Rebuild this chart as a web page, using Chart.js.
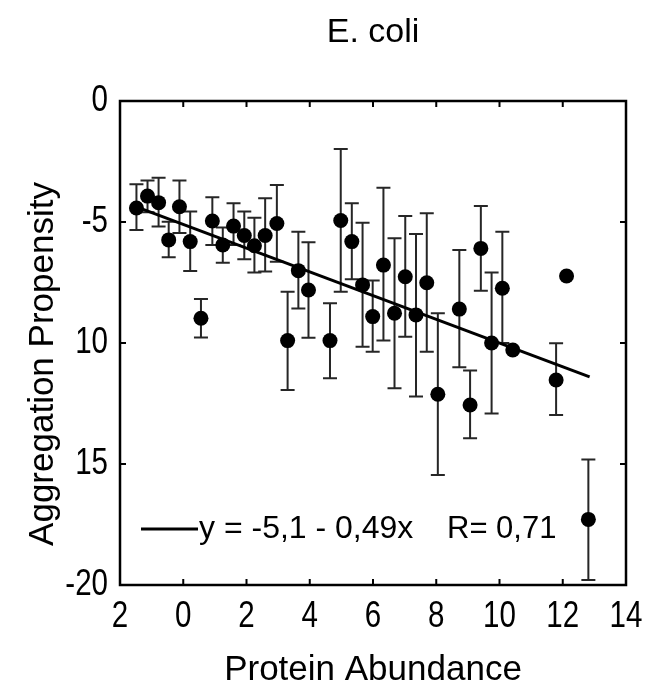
<!DOCTYPE html>
<html>
<head>
<meta charset="utf-8">
<script src="https://cdn.jsdelivr.net/npm/chart.js@4.4.0/dist/chart.umd.min.js"></script>
<style>
  html, body { margin: 0; padding: 0; background: #fff; }
  #wrap { width: 665px; height: 688px; }
</style>
</head>
<body>
<div id="wrap"><canvas id="myChart" width="665" height="688"></canvas></div>
<script>
// protein abundance (x) and aggregation propensity (y) per protein
const abundance = [-1.48, -1.13, -0.78, -0.46, -0.12, 0.22, 0.56, 0.92, 1.25, 1.59, 1.93, 2.25, 2.59, 2.96,
  3.30, 3.64, 3.96, 4.64, 4.98, 5.33, 5.67, 5.99, 6.33, 6.68, 7.02, 7.36, 7.70, 8.05, 8.73, 9.07,
  9.41, 9.75, 10.09, 10.42, 11.79, 12.12, 12.81];
const propensity = [-4.42, -3.93, -4.20, -5.74, -4.37, -5.81, -8.98, -4.96, -5.95, -5.17, -5.56, -5.98, -5.56, -5.06,
  -9.90, -7.01, -7.81, -9.90, -4.94, -5.81, -7.60, -8.91, -6.78, -8.77, -7.26, -8.84, -7.51, -12.12, -8.60, -12.56,
  -6.09, -10.00, -7.74, -10.29, -11.53, -7.23, -17.29];
// error bar ends (null = no bar)
const errHigh = [-3.44, -3.29, -3.17, -4.99, -3.29, -4.57, -8.18, -3.98, -5.23, -4.23, -4.57, -4.82, -4.02, -3.47,
  -7.88, -5.40, -5.84, -8.36, -1.98, -4.23, -5.03, -7.42, -3.58, -5.67, -4.75, -5.50, -4.64, -8.77, -6.16, -11.14,
  -4.34, -7.09, -5.40, null, -10.01, null, -14.81];
const errLow = [-5.33, -4.60, -5.19, -6.46, -5.45, -7.02, -9.77, -5.95, -6.68, -5.95, -6.54, -7.09, -7.05, -6.64,
  -11.94, -8.57, -9.78, -11.46, -7.88, -7.37, -10.15, -10.36, -9.90, -11.87, -9.74, -12.21, -10.36, -15.45, -11.00, -13.94,
  -7.84, -12.91, -10.00, null, -12.98, null, -19.79];

// linear fit y = a + b*x
const fitA = -5.1;
const fitB = -0.49;
const fitR = 0.71;
const fitRange = [-1.5, 12.85];

const xTickValues = [-2, 0, 2, 4, 6, 8, 10, 12, 14];
const xTickText = ['2', '0', '2', '4', '6', '8', '10', '12', '14'];
const yTickValues = [0, -5, -10, -15, -20];
const yTickText = ['0', '-5', '10', '15', '-20'];

const FONT = "'Liberation Sans', Arial, Helvetica, sans-serif";
const ctx = document.getElementById('myChart');

const fitPoints = fitRange.map(v => ({x: v, y: fitA + fitB * v}));
const fmt = v => String(v).replace('.', ',');
const fitLabel = 'y = ' + fmt(fitA) + ' - ' + fmt(Math.abs(fitB)) + 'x';

// vertical error bars with caps, drawn under the dots
const errorBars = {
  id: 'errorBars',
  beforeDatasetsDraw(chart) {
    const {ctx, scales: {x, y}} = chart;
    ctx.save();
    ctx.strokeStyle = '#262626';
    ctx.lineWidth = 2;
    abundance.forEach((a, i) => {
      if (errHigh[i] === null) return;
      const px = x.getPixelForValue(a);
      const top = y.getPixelForValue(errHigh[i]);
      const bot = y.getPixelForValue(errLow[i]);
      ctx.beginPath();
      ctx.moveTo(px, top); ctx.lineTo(px, bot);
      ctx.moveTo(px - 7, top); ctx.lineTo(px + 7, top);
      ctx.moveTo(px - 7, bot); ctx.lineTo(px + 7, bot);
      ctx.stroke();
    });
    ctx.restore();
  }
};

// narrow tick label, squeezed horizontally around its anchor
function narrowText(ctx, text, x, y, align) {
  ctx.save();
  ctx.translate(x, y);
  ctx.scale(0.82, 1);
  ctx.textAlign = align;
  ctx.fillText(text, 0, 0);
  ctx.restore();
}

// box around the plot, inward ticks on all sides, tick labels, legend and y title
const boxAndLegend = {
  id: 'boxAndLegend',
  afterDraw(chart) {
    const {ctx, chartArea: area, scales: {x, y}} = chart;
    ctx.save();
    ctx.strokeStyle = '#000';
    ctx.lineWidth = 2.5;
    ctx.strokeRect(area.left, area.top, area.right - area.left, area.bottom - area.top);
    ctx.lineWidth = 2;
    ctx.beginPath();
    xTickValues.forEach(v => {
      const px = x.getPixelForValue(v);
      ctx.moveTo(px, area.bottom); ctx.lineTo(px, area.bottom - 6);
      ctx.moveTo(px, area.top); ctx.lineTo(px, area.top + 6);
    });
    yTickValues.forEach(v => {
      const py = y.getPixelForValue(v);
      ctx.moveTo(area.left, py); ctx.lineTo(area.left + 6, py);
      ctx.moveTo(area.right, py); ctx.lineTo(area.right - 6, py);
    });
    ctx.stroke();

    // tick labels
    ctx.fillStyle = '#000';
    ctx.font = '36px ' + FONT;
    ctx.textBaseline = 'middle';
    xTickValues.forEach((v, i) => {
      narrowText(ctx, xTickText[i], x.getPixelForValue(v), area.bottom + 32, 'center');
    });
    yTickValues.forEach((v, i) => {
      narrowText(ctx, yTickText[i], area.left - 12, y.getPixelForValue(v), 'right');
    });

    // legend
    const ly = area.bottom - 56;
    ctx.lineWidth = 3;
    ctx.beginPath();
    ctx.moveTo(area.left + 21, ly);
    ctx.lineTo(area.left + 78, ly);
    ctx.stroke();
    ctx.font = '32px ' + FONT;
    ctx.textAlign = 'left';
    ctx.fillText(fitLabel, area.left + 79, ly);
    ctx.font = '31px ' + FONT;
    ctx.fillText('R= ' + fmt(fitR), area.left + 327, ly);

    // y axis title
    ctx.font = '35px ' + FONT;
    ctx.textAlign = 'center';
    ctx.translate(43, (area.top + area.bottom) / 2 + 21);
    ctx.rotate(-Math.PI / 2);
    ctx.fillText('Aggregation Propensity', 0, 0);
    ctx.restore();
  }
};

new Chart(ctx, {
  type: 'scatter',
  data: {
    datasets: [{
      label: 'proteins',
      data: abundance.map((a, i) => ({x: a, y: propensity[i]})),
      backgroundColor: '#000',
      borderWidth: 0,
      pointRadius: 7.5,
      pointHoverRadius: 7.5,
      order: 1
    }, {
      type: 'line',
      label: fitLabel,
      data: fitPoints,
      borderColor: '#000',
      borderWidth: 3,
      pointRadius: 0,
      fill: false,
      order: 2
    }]
  },
  options: {
    responsive: false,
    animation: false,
    layout: { padding: { left: 0, right: 39, top: 0, bottom: 0 } },
    plugins: {
      legend: { display: false },
      tooltip: { enabled: false },
      title: {
        display: true,
        text: 'E. coli',
        fullSize: false,
        color: '#000',
        font: { family: FONT, size: 34, weight: 'normal', lineHeight: 1.2 },
        padding: { top: 12.6, bottom: 47.6 }
      }
    },
    scales: {
      x: {
        type: 'linear',
        min: -2,
        max: 14,
        afterFit: s => { s.height = 103; },
        afterBuildTicks: s => { s.ticks = xTickValues.map(v => ({value: v})); },
        grid: { display: false, drawTicks: false },
        border: { display: false },
        ticks: { display: false },
        title: {
          display: true,
          text: 'Protein Abundance',
          color: '#000',
          font: { family: FONT, size: 35, lineHeight: 1 },
          padding: { top: 0, bottom: 0 }
        }
      },
      y: {
        type: 'linear',
        min: -20,
        max: 0,
        afterFit: s => { s.width = 120; },
        afterBuildTicks: s => { s.ticks = yTickValues.map(v => ({value: v})); },
        grid: { display: false, drawTicks: false },
        border: { display: false },
        ticks: { display: false }
      }
    }
  },
  plugins: [errorBars, boxAndLegend]
});
</script>
</body>
</html>
